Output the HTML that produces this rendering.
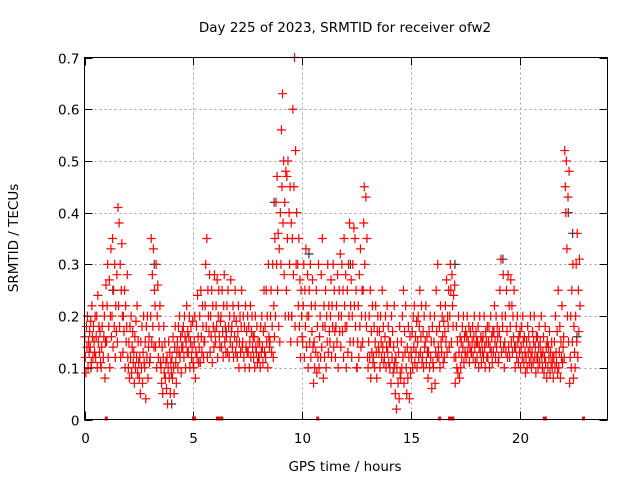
<!DOCTYPE html>
<html><head><meta charset="utf-8"><style>
body{margin:0;background:#fff}
svg{display:block;font-family:"DejaVu Sans","Liberation Sans",sans-serif}
</style></head><body>
<svg id="chart" width="640" height="480" viewBox="0 0 640 480">
<rect width="640" height="480" fill="#fff"/>
<text x="345" y="32" font-size="13.5" text-anchor="middle">Day 225 of 2023, SRMTID for receiver ofw2</text>
<text transform="translate(18,238) rotate(-90)" font-size="13.5" text-anchor="middle">SRMTID / TECUs</text>
<text x="345" y="471" font-size="13.5" text-anchor="middle">GPS time / hours</text>
<g id="grid"></g>
<g id="axes"></g>
<g id="gray"></g>
<g id="red"></g>
<rect x="84.5" y="57.5" width="523" height="362" fill="none" stroke="#000" stroke-width="1"/>
</svg>
<script>
const xTicks=[0,5,10,15,20];
const yTicks=[0,0.1,0.2,0.3,0.4,0.5,0.6,0.7];
const binWidth=0.25;
const binValues=[
[.16,.12,.09,.18,.14,.2,.1,.15,.13,.17],[.14,.19,.11,.22,.16,.12,.18,.15,.13,.2],[.12,.16,.2,.1,.24,.15,.18,.13,.17,.11],[.1,.14,.18,.22,.12,.16,.2,.08,.15,.26],
[.15,.22,.3,.12,.18,.27,.1,.2,.33,.16],[.2,.35,.14,.25,.18,.3,.12,.22,.17,.28],[.15,.41,.22,.38,.18,.3,.12,.25,.34,.2],[.13,.2,.17,.25,.1,.22,.15,.18,.28,.12],
[.1,.15,.08,.18,.12,.2,.09,.14,.17,.11],[.13,.07,.16,.1,.19,.12,.22,.09,.15,.11],[.08,.12,.05,.15,.1,.18,.07,.13,.2,.11],[.1,.15,.04,.18,.12,.2,.08,.14,.16,.11],
[.12,.2,.35,.15,.28,.18,.33,.14,.25,.22],[.14,.3,.1,.2,.26,.12,.18,.15,.22,.11],[.1,.07,.14,.05,.12,.18,.09,.15,.08,.11],[.06,.12,.03,.1,.15,.08,.13,.05,.11,.09],
[.12,.08,.16,.1,.05,.14,.18,.11,.07,.13],[.15,.1,.18,.13,.2,.12,.16,.09,.14,.17],[.14,.18,.12,.2,.16,.1,.15,.22,.13,.17],[.13,.16,.2,.1,.15,.18,.12,.14,.19,.11],
[.1,.15,.2,.08,.13,.18,.12,.24,.16,.11],[.14,.2,.11,.25,.16,.13,.22,.18,.12,.15],[.15,.22,.3,.18,.35,.12,.25,.2,.17,.28],[.13,.2,.16,.25,.11,.22,.18,.14,.28,.17],
[.15,.22,.18,.27,.12,.2,.25,.16,.14,.19],[.2,.14,.25,.17,.12,.22,.28,.15,.18,.13],[.16,.22,.13,.25,.18,.12,.2,.15,.27,.17],[.18,.14,.22,.12,.2,.16,.25,.13,.19,.15],
[.12,.17,.22,.1,.15,.2,.13,.18,.25,.14],[.15,.2,.12,.18,.1,.22,.14,.17,.13,.2],[.13,.18,.1,.15,.22,.12,.17,.2,.14,.16],[.12,.16,.1,.2,.14,.13,.18,.11,.15,.12],
[.12,.15,.1,.18,.13,.2,.14,.11,.17,.25],[.13,.18,.12,.25,.15,.2,.1,.3,.16,.14],[.15,.2,.25,.13,.18,.3,.12,.22,.16,.35],[.2,.42,.3,.47,.25,.36,.18,.33,.15,.4],
[.3,.56,.45,.63,.38,.5,.28,.42,.2,.48],[.25,.47,.35,.5,.2,.4,.3,.45,.15,.38],[.2,.35,.6,.28,.45,.7,.18,.52,.3,.4],[.15,.3,.22,.35,.18,.27,.12,.25,.2,.16],
[.15,.22,.3,.12,.25,.18,.33,.14,.2,.28],[.1,.2,.25,.15,.3,.12,.22,.17,.27,.14],[.07,.15,.1,.22,.13,.25,.09,.18,.12,.3],[.1,.16,.2,.12,.28,.14,.35,.18,.08,.22],
[.12,.18,.25,.1,.2,.15,.3,.13,.22,.17],[.15,.2,.27,.12,.22,.18,.3,.14,.25,.17],[.12,.18,.22,.15,.28,.1,.2,.25,.17,.32],[.14,.2,.3,.17,.25,.12,.35,.22,.18,.28],
[.1,.18,.25,.13,.3,.2,.38,.15,.22,.27],[.12,.2,.3,.15,.37,.22,.35,.18,.25,.1],[.1,.15,.22,.12,.28,.18,.33,.14,.2,.25],[.15,.25,.38,.45,.3,.2,.43,.18,.35,.12],
[.1,.15,.2,.12,.25,.08,.17,.13,.22,.11],[.12,.18,.1,.15,.22,.13,.08,.17,.2,.14],[.13,.17,.1,.2,.15,.12,.25,.14,.18,.11],[.12,.16,.2,.1,.14,.22,.13,.18,.11,.15],
[.1,.15,.07,.2,.12,.17,.09,.14,.22,.11],[.05,.12,.02,.1,.15,.07,.13,.04,.18,.09],[.08,.15,.1,.2,.12,.25,.07,.17,.13,.22],[.1,.05,.14,.08,.18,.12,.04,.16,.09,.13],
[.12,.17,.1,.2,.14,.22,.11,.16,.13,.19],[.1,.15,.2,.12,.18,.25,.13,.16,.22,.11],[.12,.17,.1,.2,.14,.15,.22,.11,.16,.13],[.08,.13,.17,.1,.2,.12,.15,.06,.18,.11],
[.1,.15,.2,.07,.13,.25,.17,.12,.3,.14],[.12,.18,.1,.22,.15,.13,.2,.16,.11,.19],[.12,.17,.22,.15,.27,.13,.2,.18,.25,.14],[.2,.3,.25,.15,.28,.22,.18,.24,.12,.26],
[.07,.12,.18,.1,.15,.09,.2,.13,.08,.16],[.1,.15,.12,.18,.14,.2,.11,.16,.13,.17],[.12,.16,.2,.13,.15,.18,.11,.14,.17,.13],[.13,.15,.18,.12,.16,.2,.14,.11,.17,.15],
[.12,.15,.18,.1,.14,.2,.13,.16,.11,.15],[.13,.16,.12,.2,.14,.1,.17,.15,.12,.18],[.12,.15,.18,.1,.14,.2,.13,.16,.11,.17],[.13,.17,.22,.15,.12,.2,.14,.18,.16,.11],
[.12,.17,.25,.15,.31,.13,.2,.18,.28,.14],[.1,.15,.2,.13,.25,.17,.12,.28,.14,.22],[.12,.18,.27,.15,.22,.13,.2,.16,.25,.14],[.1,.14,.18,.12,.2,.15,.11,.16,.13,.17],
[.1,.14,.18,.12,.2,.15,.11,.16,.13,.09],[.12,.15,.1,.18,.13,.16,.11,.14,.2,.12],[.1,.13,.17,.11,.15,.2,.12,.14,.09,.16],[.12,.16,.1,.14,.18,.11,.15,.13,.2,.12],
[.1,.13,.16,.09,.12,.18,.11,.14,.08,.15],[.1,.14,.12,.17,.09,.13,.11,.15,.1,.12],[.08,.12,.15,.1,.2,.13,.11,.17,.09,.25],[.1,.13,.18,.08,.15,.12,.22,.11,.14,.16],
[.12,.52,.45,.4,.5,.33,.2,.43,.15,.48],[.07,.12,.2,.1,.25,.15,.3,.08,.18,.13],[.1,.2,.3,.15,.36,.12,.25,.17,.31,.22]
];
const grayTimes=[0.3,1.3,3.2,4.0,6.5,8.7,9.5,10.3,12.2,14.2,17.0,19.2,20.8,22.2,22.4,22.6];
const grayValues=[0.1,0.25,0.3,0.03,0.17,0.42,0.2,0.32,0.3,0.1,0.3,0.31,0.12,0.4,0.36,0.16];
const zeroTimes=[1.0,5.0,5.05,6.1,6.15,6.25,6.3,10.7,16.3,16.75,16.8,16.9,21.1,21.15,22.9];

const X0=84.5,X1=607.5,Y0=419.5,Y1=57.5;
const xs=t=>X0+(t/24)*(X1-X0);
const ys=v=>Y0-(v/0.7)*(Y0-Y1);
const NS="http://www.w3.org/2000/svg";
function mk(tag,parent,attrs){const e=document.createElementNS(NS,tag);for(const k in attrs)e.setAttribute(k,attrs[k]);parent.appendChild(e);return e;}
const grid=document.getElementById('grid'),axes=document.getElementById('axes');
yTicks.forEach(v=>{
  const y=Math.round(ys(v))+0.5;
  if(v>0&&v<0.7){const l=mk('line',grid,{x1:X0,x2:X1,y1:y,y2:y,stroke:'#a0a0a0','stroke-dasharray':'2,3'});
  
  }
  mk('line',axes,{x1:X0,x2:X0+8,y1:y,y2:y,stroke:'#000'});
  mk('line',axes,{x1:X1-8,x2:X1,y1:y,y2:y,stroke:'#000'});
  const t=mk('text',axes,{x:X0-5,y:y+5,'font-size':13.5,'text-anchor':'end'});
  t.textContent=v===0?'0':v.toFixed(1);
  
  
});
xTicks.forEach(h=>{
  const x=Math.round(xs(h))+0.5;
  if(h>0){const l=mk('line',grid,{x1:x,x2:x,y1:Y1,y2:Y0,stroke:'#a0a0a0','stroke-dasharray':'2,3'});
  
  }
  mk('line',axes,{x1:x,x2:x,y1:Y0,y2:Y0-8,stroke:'#000'});
  mk('line',axes,{x1:x,x2:x,y1:Y1,y2:Y1+8,stroke:'#000'});
  const t=mk('text',axes,{x:x,y:443,'font-size':13.5,'text-anchor':'middle'});
  t.textContent=String(h);
  
  
});
function plus(parent,t,v,color,name){
  const x=xs(t),y=ys(v);
  const p=mk('path',parent,{d:`M${x-4.5},${y}H${x+4.5}M${x},${y-4.5}V${y+4.5}`,stroke:color,'stroke-width':1.2,fill:'none'});
  
  
}
const gray=document.getElementById('gray'),red=document.getElementById('red');
grayTimes.forEach((t,i)=>plus(gray,t,grayValues[i],'#333','gray-point'));
binValues.forEach((vals,b)=>{
  vals.forEach((v,j)=>plus(red,b*binWidth+(j+0.5)/vals.length*binWidth,v,'#ff0000','red-point'));
});
zeroTimes.forEach(t=>{
  const r=mk('rect',red,{x:xs(t)-1.5,y:Y0-3,width:3,height:4,fill:'#ff0000'});
  
  
});
</script>
</body></html>
